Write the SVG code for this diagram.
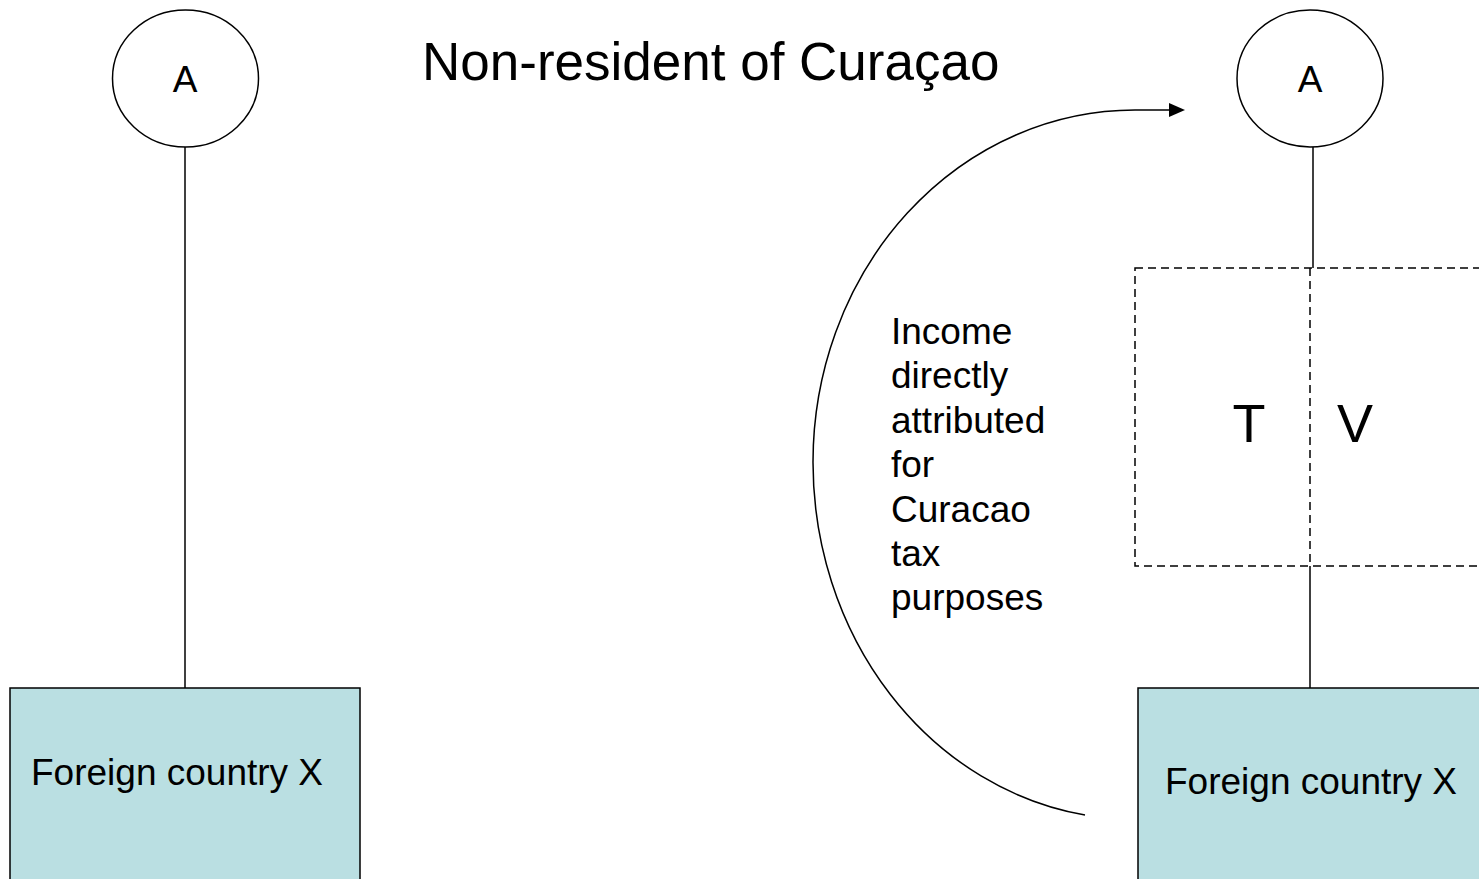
<svg xmlns="http://www.w3.org/2000/svg" width="1479" height="879" viewBox="0 0 1479 879">
<style>
  text { font-family: "Liberation Sans", Arial, sans-serif; fill: #000; }
  .circ { fill: #fff; stroke: #000; stroke-width: 1.5; }
  .box { fill: #BADFE2; stroke: #000; stroke-width: 1.5; }
  .dash { fill: none; stroke: #000; stroke-width: 1.5; stroke-dasharray: 8 5; }
  .ln { fill: none; stroke: #000; stroke-width: 1.5; }
  .lbl { font-size: 37px; }
</style>
<defs>
  <marker id="arr" markerWidth="16" markerHeight="14" refX="0" refY="7" orient="auto" markerUnits="userSpaceOnUse">
    <polygon points="0,0 16,7 0,14" fill="#000"/>
  </marker>
</defs>
<rect width="1479" height="879" fill="#fff"/>

<g id="connectors">
  <line class="ln" x1="185" y1="147" x2="185" y2="688"/>
  <line class="ln" x1="1313" y1="147" x2="1313" y2="268"/>
  <line class="dash" x1="1310" y1="268" x2="1310" y2="566"/>
  <line class="ln" x1="1310" y1="566" x2="1310" y2="688"/>
  <path class="ln" d="M 1085 815 A 322 357 0 0 1 813 462 A 322 352 0 0 1 1135 110 L 1169 110" marker-end="url(#arr)"/>
</g>

<g id="title">
  <text x="422" y="80" font-size="53">Non-resident of Curaçao</text>
</g>

<g id="nodeA-left">
  <ellipse class="circ" cx="185.5" cy="78.5" rx="73" ry="68.5"/>
  <text class="lbl" x="185" y="92" text-anchor="middle" font-size="36">A</text>
</g>

<g id="nodeA-right">
  <ellipse class="circ" cx="1310" cy="78.5" rx="73" ry="68.5"/>
  <text class="lbl" x="1310" y="92" text-anchor="middle" font-size="36">A</text>
</g>

<g id="nodeX-left">
  <rect class="box" x="10" y="688" width="350" height="200"/>
  <text class="lbl" x="31" y="785">Foreign country X</text>
</g>

<g id="nodeX-right">
  <rect class="box" x="1138" y="688" width="360" height="200"/>
  <text class="lbl" x="1165" y="794">Foreign country X</text>
</g>

<g id="nodeTV">
  <rect class="dash" x="1135" y="268" width="360" height="298"/>
  <text x="1249" y="442" font-size="54" text-anchor="middle">T</text>
  <text x="1355" y="442" font-size="54" text-anchor="middle">V</text>
</g>

<g id="label-income">
  <text class="lbl" x="891" y="344">Income</text>
  <text class="lbl" x="891" y="388.4">directly</text>
  <text class="lbl" x="891" y="432.8">attributed</text>
  <text class="lbl" x="891" y="477.2">for</text>
  <text class="lbl" x="891" y="521.6">Curacao</text>
  <text class="lbl" x="891" y="566">tax</text>
  <text class="lbl" x="891" y="610.4">purposes</text>
</g>
</svg>
